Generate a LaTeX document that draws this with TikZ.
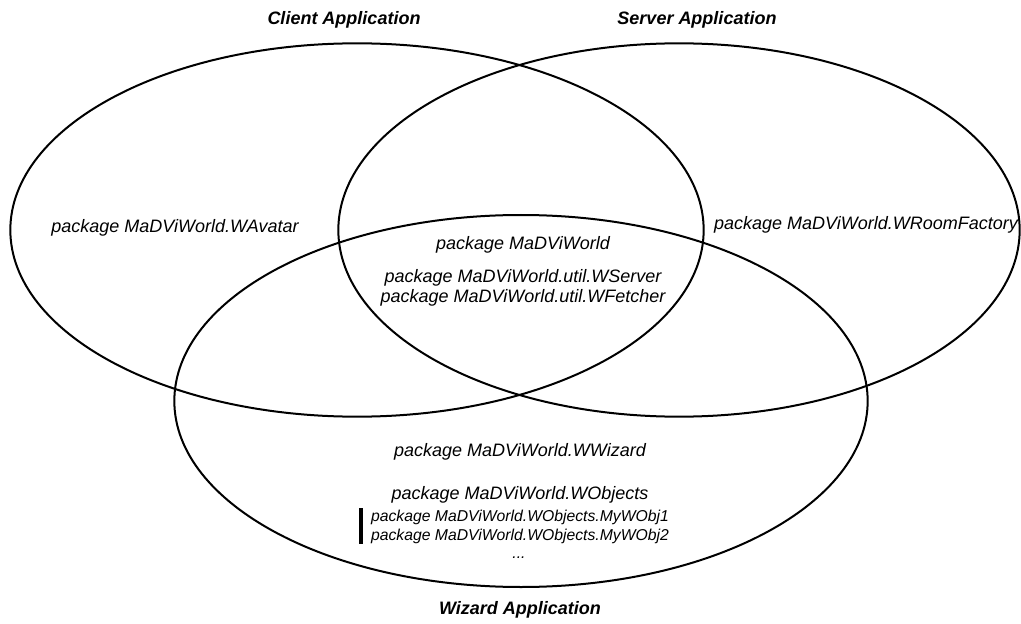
\documentclass[tikz,border=0pt]{standalone}
\usepackage{fontspec}
\setmainfont{Liberation Sans}
\usepackage{tikz}
\usetikzlibrary{shapes.geometric}

\tikzset{
  appset/.style={ellipse, draw, line width=1.5pt, inner sep=0pt,
    minimum width=520pt, minimum height=280pt},
  apptitle/.style={font=\fontsize{13.5}{16}\selectfont\bfseries\itshape},
  pkg/.style={font=\fontsize{13.5}{16}\selectfont\itshape, inner sep=0pt},
  subpkg/.style={font=\fontsize{11.8}{14}\selectfont\itshape, inner sep=0pt},
}

\begin{document}
\begin{tikzpicture}[x=0.75pt, y=-0.75pt]
      \useasboundingbox (0,0) rectangle (1021,624);
      % Les trois applications
      \node[appset] (client) at (357,230) {};
      \node[appset, minimum width=511pt] (server) at (679,230) {};
      \node[appset, minimum height=279pt] (wizard) at (521,401) {};
      \node[apptitle] (clienttitle) at (344,20) {Client Application};
      \node[apptitle] (servertitle) at (697,20) {Server Application};
      \node[apptitle] (wizardtitle) at (520,610) {Wizard Application};
      % Paquetages propres a chaque application
      \node[pkg] (avatar) at (175,228) {package MaDViWorld.WAvatar};
      \node[pkg] (roomfactory) at (866,225) {package MaDViWorld.WRoomFactory};
      % Paquetages communs
      \node[pkg] (core) at (523,245) {package MaDViWorld};
      \node[pkg] (wserver) at (523,278) {package MaDViWorld.util.WServer};
      \node[pkg] (wfetcher) at (523,298) {package MaDViWorld.util.WFetcher};
      % Paquetages du wizard
      \node[pkg] (wwizard) at (520,452) {package MaDViWorld.WWizard};
      \node[pkg] (wobjects) at (520,495) {package MaDViWorld.WObjects};
      \foreach \i/\y in {1/517,2/536} {
        \node[subpkg] (myobj\i) at (520,\y) {package MaDViWorld.WObjects.MyWObj\i};
      }
      \node[subpkg] (more) at (519,558) {...};
      \coordinate (bartop) at (361,508);
      \coordinate (barbot) at (361,544);
      \draw[line width=3.5pt] (bartop) -- (barbot);
    \end{tikzpicture}
\end{document}
